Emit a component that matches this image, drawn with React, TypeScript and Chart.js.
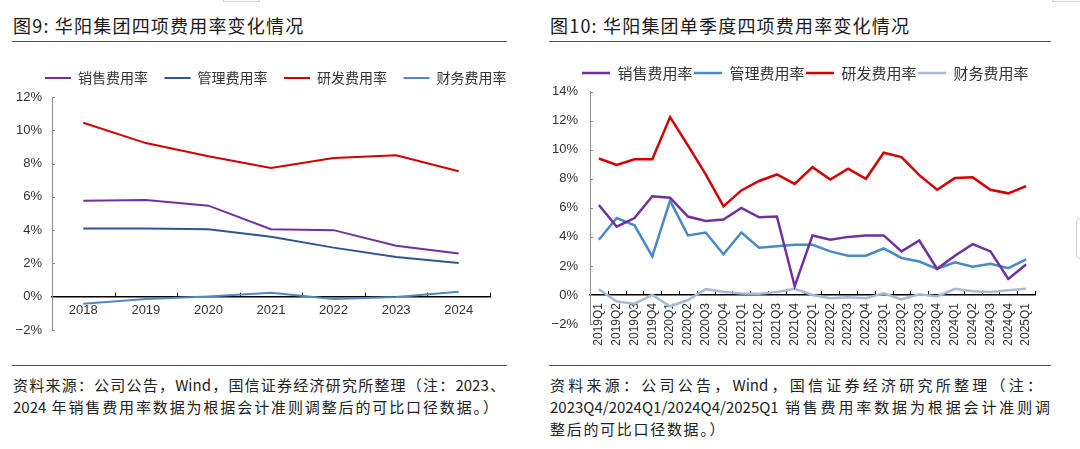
import React, { useEffect, useRef } from 'react';
import { Chart, registerables } from 'chart.js';

Chart.register(...registerables);

// ---------- Data: 图9 (annual) ----------
const annualYears = ['2018', '2019', '2020', '2021', '2022', '2023', '2024'];
const annualSales = [5.77, 5.81, 5.47, 4.06, 4.0, 3.06, 2.59];
const annualAdmin = [4.1, 4.1, 4.06, 3.6, 2.95, 2.39, 2.03];
const annualRD = [10.45, 9.23, 8.44, 7.74, 8.34, 8.5, 7.54];
const annualFin = [-0.42, -0.14, 0.02, 0.24, -0.14, -0.02, 0.3];

// ---------- Data: 图10 (quarterly) ----------
const quarters = [
  '2019Q1', '2019Q2', '2019Q3', '2019Q4',
  '2020Q1', '2020Q2', '2020Q3', '2020Q4',
  '2021Q1', '2021Q2', '2021Q3', '2021Q4',
  '2022Q1', '2022Q2', '2022Q3', '2022Q4',
  '2023Q1', '2023Q2', '2023Q3', '2023Q4',
  '2024Q1', '2024Q2', '2024Q3', '2024Q4',
  '2025Q1',
];
const qSales = [6.2, 4.7, 5.3, 6.8, 6.7, 5.4, 5.1, 5.2, 6.0, 5.35, 5.4, 0.6, 4.1, 3.8, 4.0, 4.1, 4.1, 3.0, 3.75, 1.8, 2.7, 3.5, 3.0, 1.1, 2.1];
const qAdmin = [3.8, 5.3, 4.8, 2.65, 6.5, 4.1, 4.3, 2.8, 4.3, 3.25, 3.35, 3.45, 3.45, 3.0, 2.7, 2.7, 3.2, 2.55, 2.3, 1.8, 2.25, 1.95, 2.15, 1.85, 2.45];
const qRD = [9.4, 8.95, 9.35, 9.35, 12.25, 10.3, 8.3, 6.1, 7.2, 7.85, 8.3, 7.65, 8.8, 7.95, 8.7, 8.0, 9.8, 9.5, 8.25, 7.25, 8.05, 8.1, 7.25, 7.0, 7.5];
const qFin = [0.4, -0.45, -0.6, 0.0, -0.78, -0.35, 0.4, 0.22, 0.1, 0.08, 0.2, 0.42, 0.0, -0.22, -0.15, -0.22, 0.12, -0.3, 0.05, -0.1, 0.42, 0.25, 0.2, 0.32, 0.42];

const seriesNames = ['销售费用率', '管理费用率', '研发费用率', '财务费用率'];

const CJK = "'Noto Sans CJK SC', 'Noto Sans', sans-serif";
const LATIN = "'Liberation Sans', Arial, sans-serif";

const axisTicksPlugin = {
  id: 'axisTicks',
  beforeDatasetsDraw(chart: any) {
    const { ctx, scales } = chart;
    const xs = scales.x;
    const ys = scales.y;
    const y0 = ys.getPixelForValue(0);
    const n = xs.getLabels().length;
    ctx.save();
    ctx.lineWidth = 1;
    ctx.strokeStyle = '#000';
    ctx.beginPath();
    for (let i = 1; i <= n; i++) {
      const px = Math.round(xs.left + (xs.width * i) / n) + 0.5;
      ctx.moveTo(px, y0);
      ctx.lineTo(px, y0 - 4);
    }
    ctx.stroke();
    ctx.strokeStyle = '#8c8c8c';
    ctx.beginPath();
    ys.ticks.forEach((t: any) => {
      const py = Math.round(ys.getPixelForValue(t.value)) + 0.5;
      ctx.moveTo(ys.right, py);
      ctx.lineTo(ys.right + 3, py);
    });
    ctx.stroke();
    ctx.restore();
  },
};

function legendHeightPlugin(h: number) {
  return {
    id: 'legendHeight',
    beforeLayout(chart: any) {
      const lg = chart.legend;
      if (lg && !lg.__patched) {
        const fit = lg.fit.bind(lg);
        lg.fit = function () {
          fit();
          this.height = h;
        };
        lg.__patched = true;
      }
    },
  };
}

interface Cfg {
  labels: string[];
  data: number[][];
  colors: string[];
  lineWidth: number;
  yMin: number;
  yMax: number;
  legendFont: number;
  legendPad: number;
  boxW: number;
  legendH: number;
  padding: { top: number; left: number; right: number; bottom: number };
  yWidth: number;
  rightWidth: number;
  xRot: number;
  xFont: number;
  xPad: number;
  yPad: number;
}

function makeConfig(c: Cfg): any {
  return {
    type: 'line',
    data: {
      labels: c.labels,
      datasets: c.data.map((d, i) => ({
        label: seriesNames[i],
        data: d,
        borderColor: c.colors[i],
        backgroundColor: c.colors[i],
        borderWidth: c.lineWidth,
        pointRadius: 0,
        tension: 0,
        fill: false,
        xAxisID: 'x',
        yAxisID: 'y',
      })),
    },
    options: {
      animation: false,
      responsive: true,
      maintainAspectRatio: false,
      layout: { padding: c.padding },
      plugins: {
        legend: {
          display: true,
          position: 'top',
          align: 'center',
          labels: {
            usePointStyle: true,
            pointStyle: 'line',
            pointStyleWidth: c.boxW,
            padding: c.legendPad,
            color: '#333',
            font: { family: CJK, size: c.legendFont },
          },
        },
        tooltip: { enabled: false },
      },
      scales: {
        x: {
          type: 'category',
          position: { y: 0 },
          offset: true,
          grid: { display: false, drawTicks: false },
          border: { display: true, color: '#000', width: 1.5 },
          ticks: {
            color: '#333',
            font: { family: LATIN, size: c.xFont },
            padding: c.xPad,
            autoSkip: false,
            minRotation: c.xRot,
            maxRotation: c.xRot,
          },
          afterFit: (s: any) => {
            s.height = 0;
          },
        },
        y: {
          position: 'left',
          min: c.yMin,
          max: c.yMax,
          grid: { display: false, drawTicks: false },
          border: { display: true, color: '#8c8c8c', width: 1 },
          ticks: {
            stepSize: 2,
            color: '#333',
            font: { family: LATIN, size: 13 },
            padding: c.yPad,
            callback: (v: any) => (v < 0 ? '\u2212' + Math.abs(v) : String(v)) + '%',
          },
          afterFit: (s: any) => {
            s.width = c.yWidth;
          },
        },
        y2: {
          position: 'right',
          display: true,
          grid: { display: false, drawTicks: false },
          border: { display: false },
          ticks: { display: false },
          afterFit: (s: any) => {
            s.width = c.rightWidth;
          },
        },
      },
    },
    plugins: [axisTicksPlugin, legendHeightPlugin(c.legendH)],
  };
}

const leftCfg: Cfg = {
  labels: annualYears,
  data: [annualSales, annualAdmin, annualRD, annualFin],
  colors: ['#7030A0', '#2F5597', '#D00000', '#4F87C7'],
  lineWidth: 2,
  yMin: -2,
  yMax: 12,
  legendFont: 14,
  legendPad: 16.5,
  boxW: 26,
  legendH: 42.5,
  padding: { top: 8.5, left: 11.5, right: 0, bottom: 26 },
  yWidth: 40.5,
  rightWidth: 50,
  xRot: 0,
  xFont: 13,
  xPad: 6,
  yPad: 10,
};

const rightCfg: Cfg = {
  labels: quarters,
  data: [qSales, qAdmin, qRD, qFin],
  colors: ['#7030A0', '#4A8AC4', '#D40000', '#A7BCD3'],
  lineWidth: 2.5,
  yMin: -2,
  yMax: 14,
  legendFont: 15,
  legendPad: 1.5,
  boxW: 28,
  legendH: 27.7,
  padding: { top: 18, left: 0, right: 9.5, bottom: 32 },
  yWidth: 50,
  rightWidth: 35.5,
  xRot: 90,
  xFont: 12,
  xPad: 8,
  yPad: 12,
};

const titleStyle: React.CSSProperties = {
  position: 'absolute',
  top: 13,
  fontSize: 18,
  lineHeight: '24px',
  letterSpacing: '1.2px',
  color: '#1a1a1a',
  whiteSpace: 'nowrap',
};

const footStyle: React.CSSProperties = {
  position: 'absolute',
  fontSize: 15,
  lineHeight: '22px',
  height: 22,
  color: '#222',
  textAlign: 'justify',
  textAlignLast: 'justify' as any,
};

function Rule({ left, top, width, thick }: { left: number; top: number; width: number; thick: number }) {
  return (
    <div
      style={{
        position: 'absolute',
        left,
        top,
        width,
        height: 0,
        borderTop: `${thick}px solid #555`,
      }}
    />
  );
}

export default function App() {
  const leftRef = useRef<HTMLCanvasElement>(null);
  const rightRef = useRef<HTMLCanvasElement>(null);

  useEffect(() => {
    const c1 = new Chart(leftRef.current as HTMLCanvasElement, makeConfig(leftCfg));
    const c2 = new Chart(rightRef.current as HTMLCanvasElement, makeConfig(rightCfg));
    return () => {
      c1.destroy();
      c2.destroy();
    };
  }, []);

  return (
    <div
      style={{
        position: 'fixed',
        left: 0,
        top: 0,
        width: 1080,
        height: 449,
        background: '#fff',
        overflow: 'hidden',
        fontFamily: CJK,
      }}
    >
      {/* small UI artifacts */}
      <div style={{ position: 'absolute', left: 223, top: -10, width: 37, height: 12, border: '1px solid #d0d0d0', boxSizing: 'border-box' }} />
      <div style={{ position: 'absolute', left: 1052, top: -10, width: 40, height: 12, border: '1px solid #d0d0d0', boxSizing: 'border-box' }} />
      <div style={{ position: 'absolute', left: 1076, top: 218, width: 20, height: 41, border: '1px solid #cfcfcf', borderRadius: 4, boxSizing: 'border-box' }} />

      <div style={{ ...titleStyle, left: 13 }}>图9: 华阳集团四项费用率变化情况</div>
      <div style={{ ...titleStyle, left: 550 }}>图10: 华阳集团单季度四项费用率变化情况</div>
      <Rule left={12} top={41} width={495} thick={1.5} />
      <Rule left={549} top={41} width={502} thick={1.5} />

      <div style={{ position: 'absolute', left: 0, top: 46, width: 540, height: 310 }}>
        <canvas ref={leftRef} />
      </div>
      <div style={{ position: 'absolute', left: 540, top: 46, width: 540, height: 310 }}>
        <canvas ref={rightRef} />
      </div>

      <Rule left={12} top={365} width={495} thick={1} />
      <Rule left={549} top={365} width={502} thick={1} />

      <div style={{ ...footStyle, left: 13, top: 374, width: 492 }}>
        资料来源：公司公告，Wind，国信证券经济研究所整理（注：2023、
      </div>
      <div style={{ ...footStyle, left: 13, top: 396, width: 485 }}>
        2024 年销售费用率数据为根据会计准则调整后的可比口径数据。）
      </div>

      <div style={{ ...footStyle, left: 550, top: 374, width: 492 }}>
        资料来源：公司公告，Wind，国信证券经济研究所整理（注：
      </div>
      <div style={{ ...footStyle, left: 550, top: 396, width: 500 }}>
        2023Q4/2024Q1/2024Q4/2025Q1 销售费用率数据为根据会计准则调
      </div>
      <div style={{ ...footStyle, left: 550, top: 418, textAlign: 'left', textAlignLast: 'auto' as any, letterSpacing: '1.7px' }}>
        整后的可比口径数据。）
      </div>
    </div>
  );
}
